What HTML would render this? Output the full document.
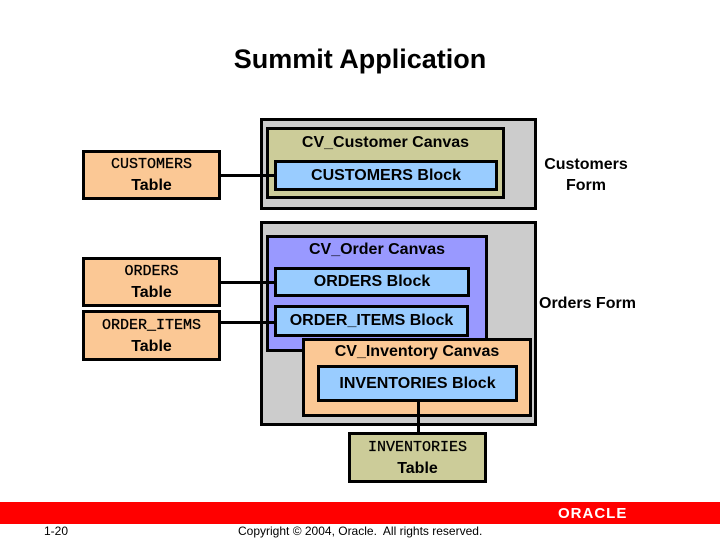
<!DOCTYPE html>
<html><head><style>
body{margin:0;width:720px;height:540px;background:#fff;position:relative;overflow:hidden;font-family:"Liberation Sans",sans-serif}
.b{position:absolute;box-sizing:border-box;border:3px solid #000}
.t{position:absolute;font-weight:bold;font-size:16px;color:#000;white-space:nowrap}
.c{display:flex;align-items:center;justify-content:center;text-align:center;font-weight:bold;font-size:16px}
.tab{background:#fbc895;display:flex;flex-direction:column;align-items:center;justify-content:center;line-height:21px}
.tab .m{font-family:"Liberation Mono",monospace;font-size:15px;font-weight:normal;-webkit-text-stroke:0.3px #000}
.tab .n{font-weight:bold;font-size:16px}
.ln{position:absolute;background:#000}
</style></head><body>
<div class="t" style="left:0;width:720px;text-align:center;top:44px;font-size:27px">Summit Application</div>

<div class="b" style="left:260px;top:118px;width:277px;height:92px;background:#cccccc"></div>
<div class="b" style="left:266px;top:127px;width:239px;height:72px;background:#cccc99"></div>
<div class="t" style="left:266px;width:239px;text-align:center;top:134px">CV_Customer Canvas</div>
<div class="b c" style="left:274px;top:160px;width:224px;height:31px;background:#99ccff">CUSTOMERS Block</div>

<div class="b" style="left:260px;top:221px;width:277px;height:205px;background:#cccccc"></div>
<div class="b" style="left:266px;top:235px;width:222px;height:117px;background:#9999ff"></div>
<div class="t" style="left:266px;width:222px;text-align:center;top:241px">CV_Order Canvas</div>
<div class="b c" style="left:274px;top:267px;width:196px;height:30px;background:#99ccff">ORDERS Block</div>
<div class="b c" style="left:274px;top:305px;width:195px;height:32px;background:#99ccff">ORDER_ITEMS Block</div>
<div class="b" style="left:302px;top:338px;width:230px;height:79px;background:#fbc895"></div>
<div class="t" style="left:302px;width:230px;text-align:center;top:343px">CV_Inventory Canvas</div>
<div class="b c" style="left:317px;top:365px;width:201px;height:37px;background:#99ccff">INVENTORIES Block</div>

<div class="b tab" style="left:82px;top:150px;width:139px;height:50px"><span class="m">CUSTOMERS</span><span class="n">Table</span></div>
<div class="b tab" style="left:82px;top:257px;width:139px;height:50px"><span class="m">ORDERS</span><span class="n">Table</span></div>
<div class="b tab" style="left:82px;top:310px;width:139px;height:51px"><span class="m">ORDER_ITEMS</span><span class="n">Table</span></div>
<div class="b tab" style="left:348px;top:432px;width:139px;height:51px;background:#cccc99"><span class="m">INVENTORIES</span><span class="n">Table</span></div>

<div class="ln" style="left:221px;top:174px;width:54px;height:3px"></div>
<div class="ln" style="left:221px;top:281px;width:54px;height:3px"></div>
<div class="ln" style="left:221px;top:321px;width:54px;height:3px"></div>
<div class="ln" style="left:417px;top:402px;width:3px;height:31px"></div>

<div class="t" style="left:538px;top:154px;width:96px;text-align:center;line-height:21px">Customers<br>Form</div>
<div class="t" style="left:539px;top:295px">Orders Form</div>

<div style="position:absolute;left:0;top:502px;width:720px;height:22px;background:#ff0000"></div>
<div style="position:absolute;left:558px;top:505px;font-size:15px;font-weight:bold;color:#fff;letter-spacing:1px">ORACLE</div>
<div style="position:absolute;left:44px;top:524px;font-size:12px">1-20</div>
<div style="position:absolute;left:238px;top:524px;font-size:12px">Copyright © 2004, Oracle.&nbsp; All rights reserved.</div>
</body></html>
